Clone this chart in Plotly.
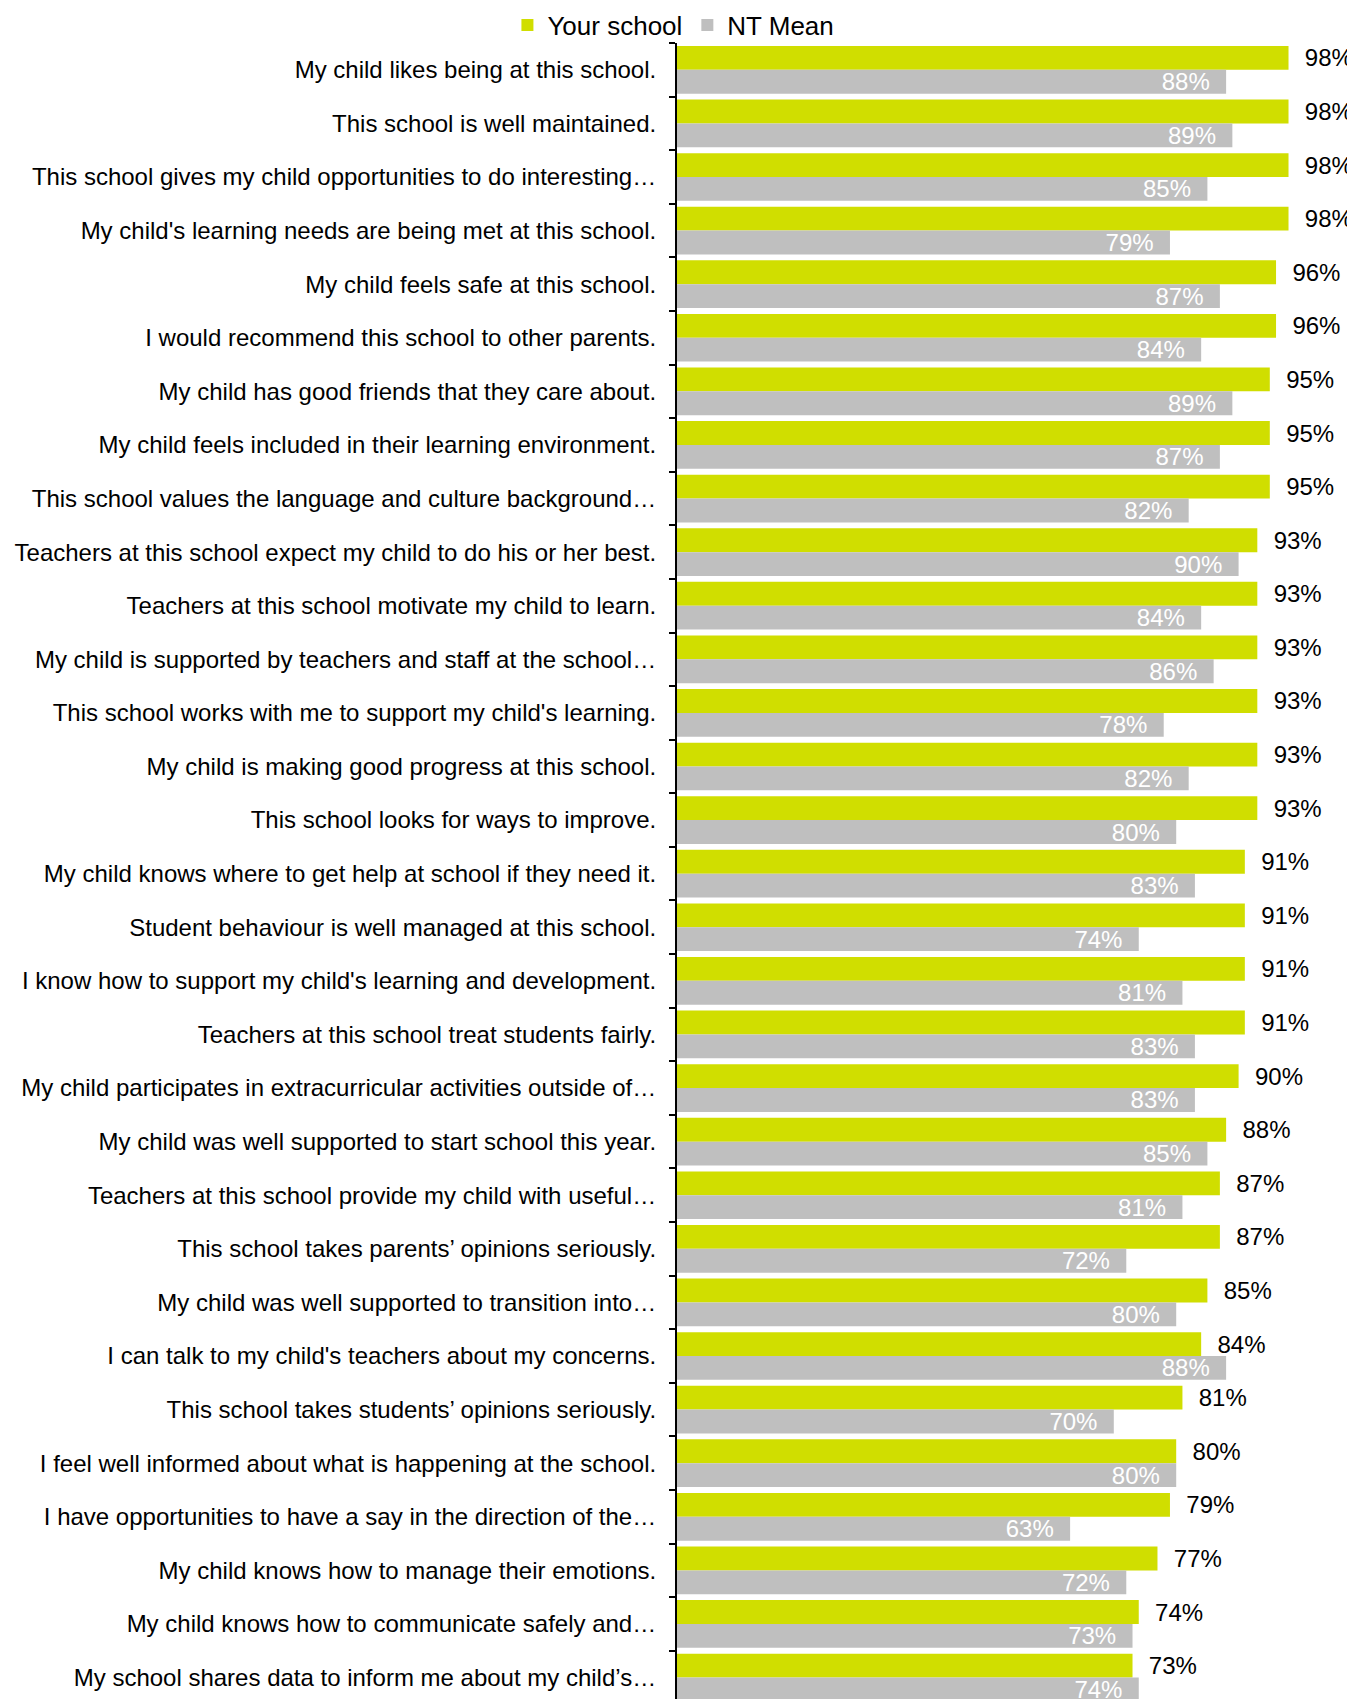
import plotly.graph_objects as go

categories = [
    "My child likes being at this school.",
    "This school is well maintained.",
    "This school gives my child opportunities to do interesting…",
    "My child's learning needs are being met at this school.",
    "My child feels safe at this school.",
    "I would recommend this school to other parents.",
    "My child has good friends that they care about.",
    "My child feels included in their learning environment.",
    "This school values the language and culture background…",
    "Teachers at this school expect my child to do his or her best.",
    "Teachers at this school motivate my child to learn.",
    "My child is supported by teachers and staff at the school…",
    "This school works with me to support my child's learning.",
    "My child is making good progress at this school.",
    "This school looks for ways to improve.",
    "My child knows where to get help at school if they need it.",
    "Student behaviour is well managed at this school.",
    "I know how to support my child's learning and development.",
    "Teachers at this school treat students fairly.",
    "My child participates in extracurricular activities outside of…",
    "My child was well supported to start school this year.",
    "Teachers at this school provide my child with useful…",
    "This school takes parents’ opinions seriously.",
    "My child was well supported to transition into…",
    "I can talk to my child's teachers about my concerns.",
    "This school takes students’ opinions seriously.",
    "I feel well informed about what is happening at the school.",
    "I have opportunities to have a say in the direction of the…",
    "My child knows how to manage their emotions.",
    "My child knows how to communicate safely and…",
    "My school shares data to inform me about my child’s…",
]

your_school = [98, 98, 98, 98, 96, 96, 95, 95, 95, 93, 93, 93, 93, 93, 93,
               91, 91, 91, 91, 90, 88, 87, 87, 85, 84, 81, 80, 79, 77, 74, 73]
nt_mean = [88, 89, 85, 79, 87, 84, 89, 87, 82, 90, 84, 86, 78, 82, 80,
           83, 74, 81, 83, 83, 85, 81, 72, 80, 88, 70, 80, 63, 72, 73, 74]

FONT = "Arial, Liberation Sans, sans-serif"
NB = "\u00a0"

fig = go.Figure()
fig.add_trace(go.Bar(
    name="Your school", y=categories, x=your_school, orientation="h",
    marker=dict(color="#D0DE00", line=dict(width=0)),
    texttemplate=NB * 2 + "%{x}%", textposition="outside", textangle=0,
    outsidetextfont=dict(family=FONT, size=24, color="#000000"),
    constraintext="none", cliponaxis=False,
))
fig.add_trace(go.Bar(
    name="NT Mean", y=categories, x=nt_mean, orientation="h",
    marker=dict(color="#BFBFBF", line=dict(width=0)),
    texttemplate="%{x}%" + NB * 2, textposition="inside", textangle=0,
    insidetextanchor="end",
    insidetextfont=dict(family=FONT, size=24, color="#FFFFFF"),
    constraintext="none", cliponaxis=False,
))

fig.update_layout(
    width=1347, height=1691,
    margin=dict(l=669, r=54, t=35, b=0, autoexpand=False),
    paper_bgcolor="white", plot_bgcolor="white",
    barmode="group", bargap=0.11, bargroupgap=0,
    font=dict(family=FONT, size=24, color="#000000"),
    showlegend=True,
    legend=dict(orientation="h", xref="container", yref="container",
                x=0.494, xanchor="center", y=1 - 17 / 1691, yanchor="middle",
                font=dict(family=FONT, size=26, color="#000000"),
                bgcolor="rgba(0,0,0,0)", itemwidth=30),
)
fig.update_xaxes(range=[0, 100], visible=False, showgrid=False, zeroline=False,
                 automargin=False)
fig.update_yaxes(
    type="category", categoryorder="array", categoryarray=categories,
    range=[30.4, -0.5], showgrid=False, zeroline=False, automargin=False,
    showline=True, linecolor="#000000", linewidth=2,
    ticks="outside", tickson="boundaries", ticklen=6, tickwidth=2,
    tickcolor="#000000", ticklabelstandoff=14,
    tickfont=dict(family=FONT, size=24, color="#000000"),
)

fig.write_html("out.html")
